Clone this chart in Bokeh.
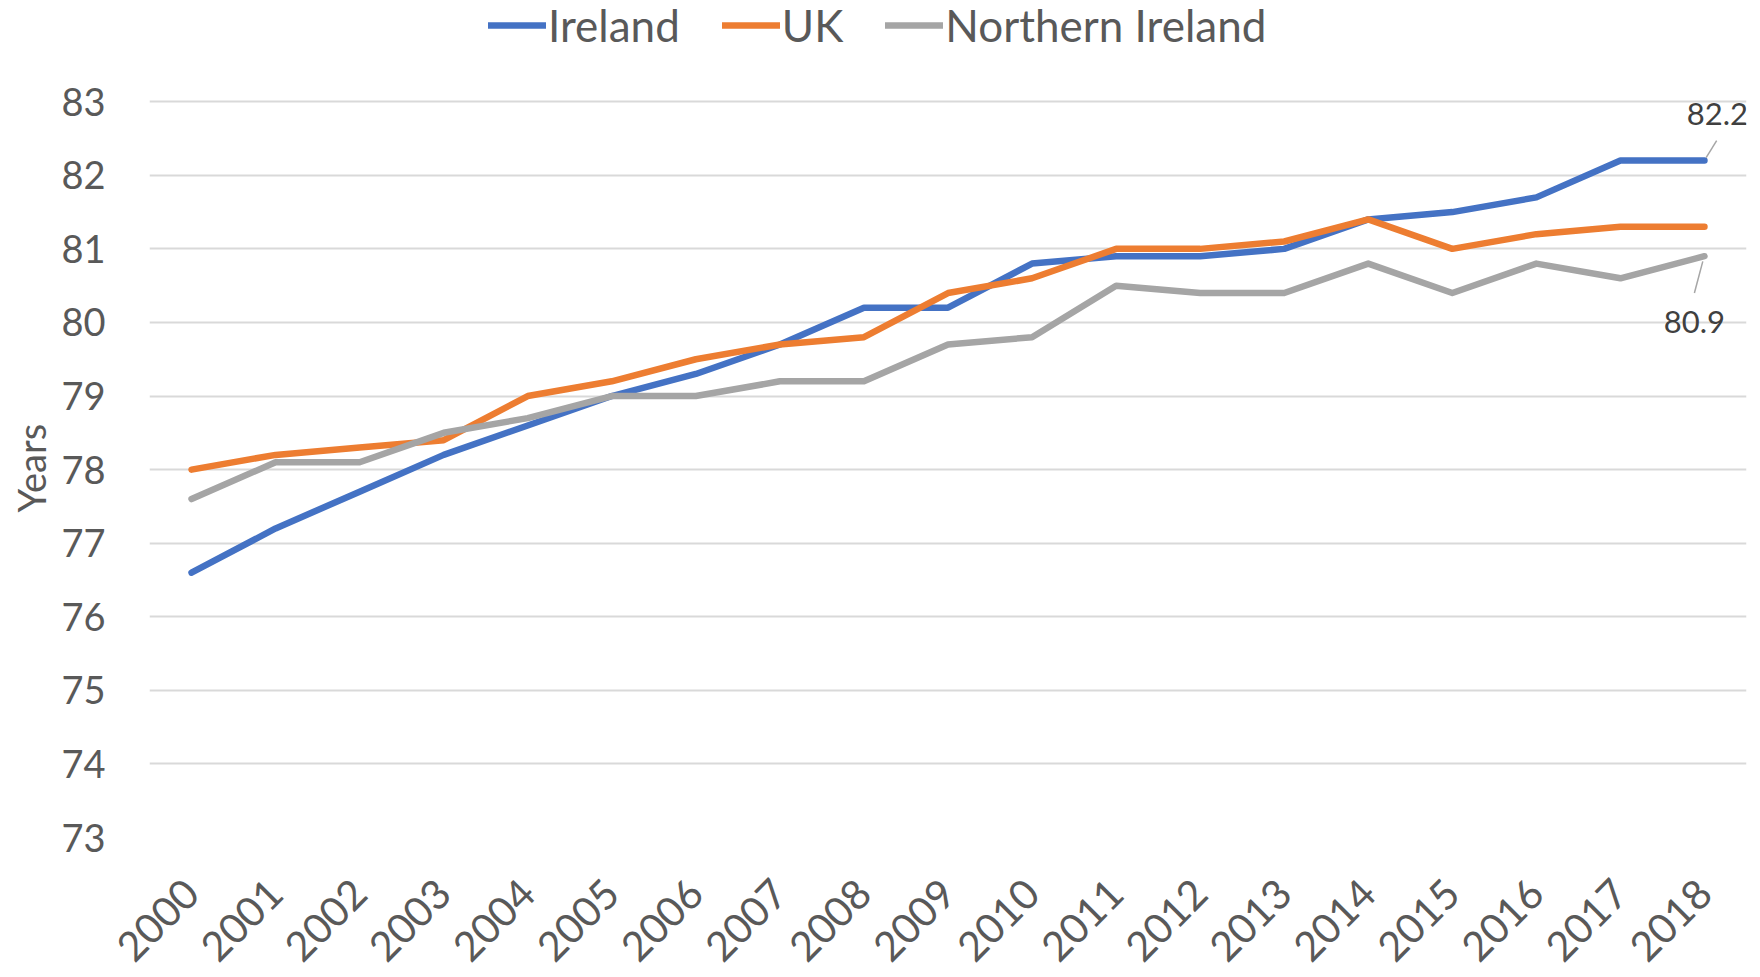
from math import pi
from bokeh.plotting import figure
from bokeh.models import Legend, LegendItem, Range1d, FixedTicker, Title
from bokeh.embed import file_html
from bokeh.resources import INLINE
from bokeh.core.properties import value

years = list(range(2000, 2019))
ireland = [76.6, 77.2, 77.7, 78.2, 78.6, 79.0, 79.3, 79.7, 80.2, 80.2,
           80.8, 80.9, 80.9, 81.0, 81.4, 81.5, 81.7, 82.2, 82.2]
uk = [78.0, 78.2, 78.3, 78.4, 79.0, 79.2, 79.5, 79.7, 79.8, 80.4,
      80.6, 81.0, 81.0, 81.1, 81.4, 81.0, 81.2, 81.3, 81.3]
northern_ireland = [77.6, 78.1, 78.1, 78.5, 78.7, 79.0, 79.0, 79.2, 79.2, 79.7,
                    79.8, 80.5, 80.4, 80.4, 80.8, 80.4, 80.8, 80.6, 80.9]
y_ticks = list(range(73, 84))
series_names = ["Ireland", "UK", "Northern Ireland"]
colors = ["#4472C4", "#ED7D31", "#A5A5A5"]

FONT = "Lato"
TXT = "#595959"

W, H = 1760, 977
FRAME_BOTTOM = 841          # pixel row of the lowest gridline
PX_PER_UNIT = 73.93         # vertical pixels per year of life expectancy
y_top = y_ticks[-1] + (FRAME_BOTTOM - (y_ticks[-1] - y_ticks[0]) * PX_PER_UNIT) / PX_PER_UNIT

p = figure(width=W, height=H, output_backend="svg", toolbar_location=None,
           x_range=Range1d(years[0] - 0.5, years[-1] + 0.5),
           y_range=Range1d(y_ticks[0], y_top),
           min_border_left=145, min_border_right=14,
           min_border_top=0, min_border_bottom=H - FRAME_BOTTOM)
p.outline_line_color = None
p.background_fill_color = "white"
p.border_fill_color = "white"

renderers = []
for ys, c in zip([ireland, uk, northern_ireland], colors):
    r = p.line(years, ys, line_width=6.5, line_color=c,
               line_join="round", line_cap="round")
    renderers.append(r)

# axes
p.xaxis.ticker = FixedTicker(ticks=years)
p.yaxis.ticker = FixedTicker(ticks=y_ticks)
for ax in (p.xaxis[0], p.yaxis[0]):
    ax.axis_line_color = None
    ax.major_tick_line_color = None
    ax.minor_tick_line_color = None
    ax.major_label_text_font = FONT
    ax.major_label_text_color = TXT
p.yaxis.major_label_text_font_size = "38px"
p.xaxis.major_label_text_font_size = "41px"
p.xaxis.major_label_orientation = pi / 4
p.xaxis.major_label_standoff = 43
p.yaxis.major_label_standoff = 38

p.add_layout(Title(text="Years", align="left", offset=325,
                   text_font=FONT, text_font_size="38px",
                   text_font_style="normal", text_color=TXT), "left")

p.xgrid.grid_line_color = None
p.ygrid.grid_line_color = "#D9D9D9"
p.ygrid.grid_line_width = 2

# data labels with leader lines
lead_c = "#A6A6A6"
p.segment(x0=[years[-1] + 0.02], y0=[ireland[-1] + 0.04],
          x1=[years[-1] + 0.145], y1=[ireland[-1] + 0.27],
          line_color=lead_c, line_width=1.5)
p.text(x=[years[-1]], y=[ireland[-1]], text=[f"{ireland[-1]}"],
       x_offset=13, y_offset=-47, text_align="center", text_baseline="middle",
       text_font=value(FONT), text_font_size="31px", text_color="#404040")
p.segment(x0=[years[-1] - 0.02], y0=[northern_ireland[-1] - 0.07],
          x1=[years[-1] - 0.12], y1=[northern_ireland[-1] - 0.5],
          line_color=lead_c, line_width=1.5)
p.text(x=[years[-1]], y=[northern_ireland[-1]], text=[f"{northern_ireland[-1]}"],
       x_offset=-10, y_offset=66, text_align="center", text_baseline="middle",
       text_font=value(FONT), text_font_size="31px", text_color="#404040")

legend = Legend(items=[LegendItem(label=n, renderers=[r]) for n, r in zip(series_names, renderers)],
                orientation="horizontal", location=(339, 786),
                label_text_font=FONT, label_text_font_size="44px",
                label_text_color=TXT, glyph_width=58, glyph_height=40,
                spacing=42, label_standoff=2, padding=0, margin=0,
                border_line_color=None, background_fill_alpha=0)
p.add_layout(legend, "center")

open("out.html", "w").write(file_html(p, INLINE))
